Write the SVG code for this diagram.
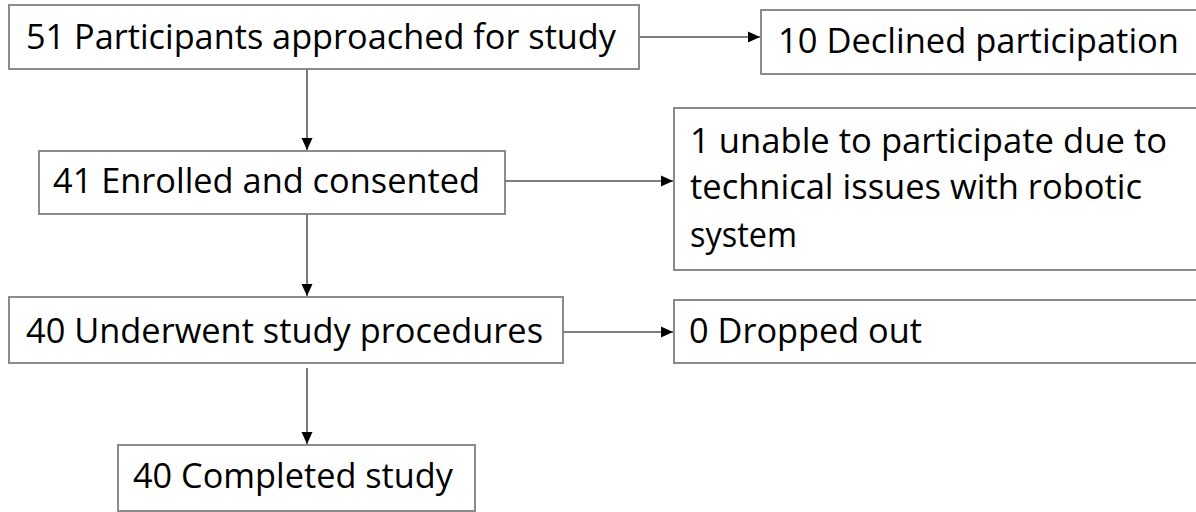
<svg xmlns="http://www.w3.org/2000/svg" width="1196" height="512" viewBox="0 0 1196 512">
  <style>
    .box { fill: #ffffff; stroke: #7f7f7f; stroke-width: 1.8; }
    .lbl { font-family: "Open Sans", "Noto Sans", "Liberation Sans", sans-serif; font-size: 34px; fill: #000000; }
    .con { fill: none; stroke: #555555; stroke-width: 1.6; }
  </style>
  <defs>
    <marker id="arr" viewBox="0 0 12 12" refX="12" refY="6" markerWidth="12" markerHeight="12" markerUnits="userSpaceOnUse" orient="auto">
      <path d="M0,0.5 L12,6 L0,11.5 Z" fill="#000000"/>
    </marker>
  </defs>
  <rect x="0" y="0" width="1196" height="512" fill="#ffffff"/>

  <g id="connectors">
    <line class="con" x1="639" y1="37" x2="760" y2="37" marker-end="url(#arr)"/>
    <line class="con" x1="307" y1="69" x2="307" y2="150" marker-end="url(#arr)"/>
    <line class="con" x1="505" y1="181" x2="673" y2="181" marker-end="url(#arr)"/>
    <line class="con" x1="307" y1="214" x2="307" y2="296" marker-end="url(#arr)"/>
    <line class="con" x1="563" y1="332" x2="673" y2="332" marker-end="url(#arr)"/>
    <line class="con" x1="307" y1="368" x2="307" y2="444" marker-end="url(#arr)"/>
  </g>

  <g id="node-approached">
    <rect class="box" x="9" y="5" width="630" height="64"/>
    <text class="lbl" x="26" y="49" textLength="590" lengthAdjust="spacingAndGlyphs">51 Participants approached for study</text>
  </g>
  <g id="node-declined">
    <rect class="box" x="761" y="10" width="500" height="64"/>
    <text class="lbl" x="778" y="53" textLength="401" lengthAdjust="spacingAndGlyphs">10 Declined participation</text>
  </g>
  <g id="node-enrolled">
    <rect class="box" x="39" y="151" width="466" height="63"/>
    <text class="lbl" x="53" y="193" textLength="427" lengthAdjust="spacingAndGlyphs">41 Enrolled and consented</text>
  </g>
  <g id="node-technical">
    <rect class="box" x="674" y="108" width="600" height="162"/>
    <text class="lbl" x="690" y="153" textLength="477" lengthAdjust="spacingAndGlyphs">1 unable to participate due to</text>
    <text class="lbl" x="690" y="199" textLength="452" lengthAdjust="spacingAndGlyphs">technical issues with robotic</text>
    <text class="lbl" x="690" y="247" textLength="107" lengthAdjust="spacingAndGlyphs">system</text>
  </g>
  <g id="node-underwent">
    <rect class="box" x="9" y="297" width="554" height="66"/>
    <text class="lbl" x="26" y="343" textLength="517" lengthAdjust="spacingAndGlyphs">40 Underwent study procedures</text>
  </g>
  <g id="node-dropped">
    <rect class="box" x="674" y="300" width="600" height="63"/>
    <text class="lbl" x="689" y="343" textLength="233" lengthAdjust="spacingAndGlyphs">0 Dropped out</text>
  </g>
  <g id="node-completed">
    <rect class="box" x="118" y="445" width="357" height="66"/>
    <text class="lbl" x="133" y="488" textLength="320" lengthAdjust="spacingAndGlyphs">40 Completed study</text>
  </g>
</svg>
